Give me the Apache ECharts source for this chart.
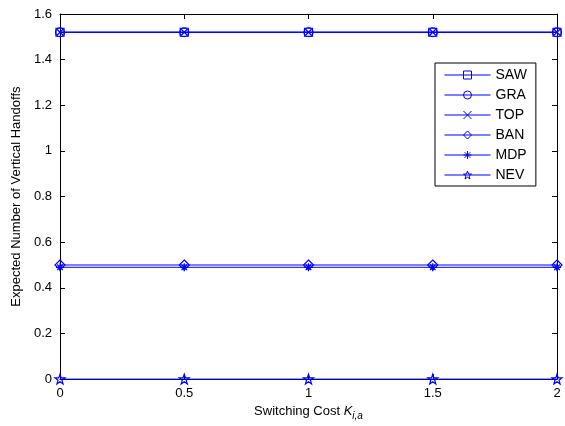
<!DOCTYPE html>
<html>
<head>
<meta charset="utf-8">
<script src="https://cdn.jsdelivr.net/npm/echarts@6/dist/echarts.min.js"></script>
<style>
  html, body { margin: 0; padding: 0; background: #fff; }
  #chart { width: 565px; height: 426px; }
</style>
</head>
<body>
<div id="chart"></div>
<script>
// Switching cost values on the x axis
const switchingCosts = [0, 0.5, 1, 1.5, 2];

// Expected number of vertical handoffs per algorithm
const sawValues = [1.52, 1.52, 1.52, 1.52, 1.52];
const graValues = [1.52, 1.52, 1.52, 1.52, 1.52];
const topValues = [1.52, 1.52, 1.52, 1.52, 1.52];
const banValues = [0.50, 0.50, 0.50, 0.50, 0.50];
const mdpValues = [0.49, 0.49, 0.49, 0.49, 0.49];
const nevValues = [0, 0, 0, 0, 0];

const seriesNames = ['SAW', 'GRA', 'TOP', 'BAN', 'MDP', 'NEV'];
const seriesValues = [sawValues, graValues, topValues, banValues, mdpValues, nevValues];

const yTicks = [0, 0.2, 0.4, 0.6, 0.8, 1, 1.2, 1.4, 1.6];
const xTicks = [0, 0.5, 1, 1.5, 2];

// MATLAB-like hollow marker shapes: square, circle, x, diamond, asterisk, pentagram
const markers = [
  'path://M0,0L10,0L10,10L0,10Z',
  'path://M10,5A5,5,0,1,1,0,5A5,5,0,1,1,10,5Z',
  'path://M0,0L10,10M10,0L0,10',
  'path://M5,0L10,5L5,10L0,5Z',
  'path://M5,0L5,10M0,5L10,5M1.5,1.5L8.5,8.5M8.5,1.5L1.5,8.5',
  'path://M5,0L6.18,3.38L9.76,3.45L6.9,5.62L7.94,9.05L5,7L2.06,9.05L3.1,5.62L0.24,3.45L3.82,3.38Z'
];
const markerSizes = [8, 9, 6, 10, 8, 10];

const BLUE = '#0000ff';
const FONT = 'Liberation Sans, Arial, sans-serif';

const markerStyle = { color: 'none', borderColor: BLUE, borderWidth: 1.2 };

const series = seriesNames.map((name, i) => ({
  name: name,
  type: 'line',
  data: switchingCosts.map((x, j) => [x, seriesValues[i][j]]),
  symbol: markers[i],
  symbolSize: markerSizes[i],
  showAllSymbol: true,
  clip: false,
  lineStyle: { color: BLUE, width: 1 },
  itemStyle: markerStyle,
  emphasis: { disabled: true },
  animation: false,
  z: 3
}));

const legendData = seriesNames.map((name) => ({
  name: name,
  itemStyle: { color: 'none', borderColor: BLUE, borderWidth: 1 },
  lineStyle: { color: BLUE, width: 1 }
}));

const tickStyle = { show: true, inside: true, length: 5, lineStyle: { color: '#000', width: 1 } };
const lineAxis = { show: true, onZero: false, lineStyle: { color: '#000', width: 1 } };

const chart = echarts.init(document.getElementById('chart'), null, { renderer: 'canvas' });
chart.setOption({
  animation: false,
  backgroundColor: '#fff',
  textStyle: { fontFamily: FONT },
  grid: { left: 60, right: 8, top: 14, bottom: 42, containLabel: false },
  legend: {
    data: legendData,
    orient: 'vertical',
    left: 435,
    top: 63,
    itemWidth: 46,
    itemHeight: 10,
    itemGap: 6,
    padding: [5, 9, 4, 9],
    borderColor: '#000',
    borderWidth: 1,
    backgroundColor: '#fff',
    textStyle: { fontFamily: FONT, fontSize: 14, color: '#000', lineHeight: 14 },
    selectedMode: false
  },
  xAxis: [{
    type: 'value',
    min: xTicks[0],
    max: xTicks[xTicks.length - 1],
    interval: 0.5,
    position: 'bottom',
    axisLine: lineAxis,
    axisTick: tickStyle,
    splitLine: { show: false },
    axisLabel: { color: '#000', fontSize: 13, fontFamily: FONT, margin: 8 },
    name: '{a|Switching Cost }{k|K}{s|i,a}',
    nameLocation: 'middle',
    nameGap: 22,
    nameTextStyle: {
      rich: {
        a: { fontSize: 13, fontFamily: FONT, color: '#000' },
        k: { fontSize: 13, fontFamily: FONT, color: '#000', fontStyle: 'italic' },
        s: { fontSize: 10, fontFamily: FONT, color: '#000', fontStyle: 'italic', padding: [9, 0, 0, 0] }
      }
    }
  }, {
    type: 'value',
    min: xTicks[0],
    max: xTicks[xTicks.length - 1],
    interval: 0.5,
    position: 'top',
    axisLine: lineAxis,
    axisTick: tickStyle,
    splitLine: { show: false },
    axisLabel: { show: false }
  }],
  yAxis: [{
    type: 'value',
    min: yTicks[0],
    max: yTicks[yTicks.length - 1],
    interval: 0.2,
    position: 'left',
    axisLine: lineAxis,
    axisTick: tickStyle,
    splitLine: { show: false },
    axisLabel: { color: '#000', fontSize: 13, fontFamily: FONT, margin: 8 },
    name: 'Expected Number of Vertical Handoffs',
    nameLocation: 'middle',
    nameGap: 34,
    nameTextStyle: { fontSize: 13, fontFamily: FONT, color: '#000' }
  }, {
    type: 'value',
    min: yTicks[0],
    max: yTicks[yTicks.length - 1],
    interval: 0.2,
    position: 'right',
    axisLine: lineAxis,
    axisTick: tickStyle,
    splitLine: { show: false },
    axisLabel: { show: false }
  }],
  series: series
});
</script>
</body>
</html>
